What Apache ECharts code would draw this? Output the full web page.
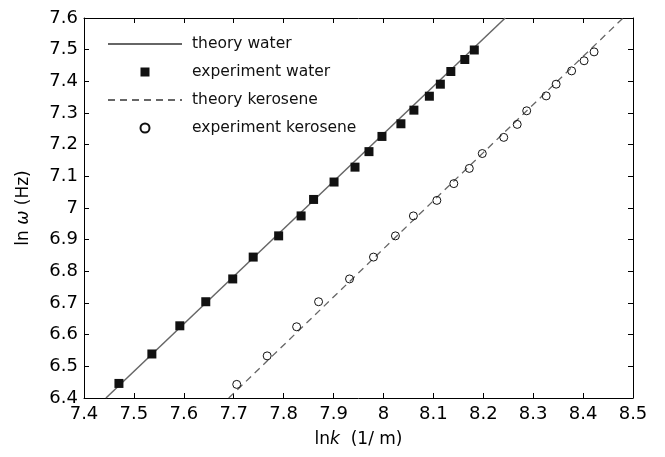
<!DOCTYPE html>
<html><head><meta charset="utf-8">
<script src="https://cdn.jsdelivr.net/npm/echarts@6/dist/echarts.min.js"></script>
<style>html,body{margin:0;padding:0;background:#fff}#c{width:665px;height:457px}</style>
</head><body><div id="c"></div>
<script>
// ln k (1/m) and ln omega (Hz)
const waterK = [7.470, 7.536, 7.592, 7.644, 7.698, 7.739, 7.790, 7.835, 7.860, 7.901, 7.943, 7.971, 7.997, 8.035, 8.061, 8.092, 8.114, 8.135, 8.163, 8.182];
const waterW = [6.446, 6.539, 6.628, 6.704, 6.776, 6.845, 6.912, 6.975, 7.027, 7.082, 7.129, 7.178, 7.226, 7.266, 7.309, 7.353, 7.391, 7.431, 7.469, 7.499];
const keroK  = [7.706, 7.767, 7.826, 7.870, 7.932, 7.980, 8.024, 8.060, 8.107, 8.141, 8.172, 8.198, 8.241, 8.268, 8.287, 8.326, 8.346, 8.377, 8.402, 8.422];
const keroW  = [6.443, 6.533, 6.625, 6.704, 6.776, 6.845, 6.912, 6.975, 7.024, 7.077, 7.125, 7.172, 7.223, 7.264, 7.307, 7.354, 7.391, 7.433, 7.465, 7.493];
const theoryWaterK = [7.444, 8.244];
const theoryWaterW = [6.4, 7.6];
const theoryKeroK = [7.690, 8.480];
const theoryKeroW = [6.4, 7.6];
const xTickLabels = ['7.4','7.5','7.6','7.7','7.8','7.9','8','8.1','8.2','8.3','8.4','8.5'];
const yTickLabels = ['6.4','6.5','6.6','6.7','6.8','6.9','7','7.1','7.2','7.3','7.4','7.5','7.6'];
const seriesNames = ['theory water','experiment water','theory kerosene','experiment kerosene'];

const FONT = 'DejaVu Sans';
const pairs = (a, b) => a.map((v, i) => [v, b[i]]);
const lab = (arr, min) => v => { const i = Math.round((v - min) / 0.1); return arr[i] !== undefined ? arr[i] : ''; };

function axisBase(min, max, labels, pos, show) {
  return {
    type: 'value', min: min, max: max, interval: 0.1, position: pos,
    axisLine: { show: true, onZero: false, lineStyle: { color: '#000', width: 1 } },
    axisTick: { show: true, inside: true, length: 5, lineStyle: { color: '#000', width: 1 } },
    axisLabel: { show: show, formatter: lab(labels, min), fontFamily: FONT, fontSize: 18, color: '#000' },
    splitLine: { show: false }
  };
}

const xb = axisBase(7.4, 8.5, xTickLabels, 'bottom', true);
xb.axisLabel.margin = 7;
xb.name = '{a|ln}{b|k}{a|  (1/ m)}';
xb.nameLocation = 'middle';
xb.nameGap = 33;
xb.nameTextStyle = { rich: { a: { fontFamily: FONT, fontSize: 17, color: '#000' }, b: { fontFamily: FONT, fontSize: 17, fontStyle: 'italic', color: '#000' } } };
const xt = axisBase(7.4, 8.5, xTickLabels, 'top', false);

const yl = axisBase(6.4, 7.6, yTickLabels, 'left', true);
yl.axisLabel.margin = 6;
yl.name = '{a|ln}{b| ω }{a|(Hz)}';
yl.nameLocation = 'middle';
yl.nameGap = 52;
yl.nameTextStyle = { rich: { a: { fontFamily: FONT, fontSize: 17, color: '#000' }, b: { fontFamily: FONT, fontSize: 17, fontStyle: 'italic', color: '#000' } } };
const yr = axisBase(6.4, 7.6, yTickLabels, 'right', false);

const chart = echarts.init(document.getElementById('c'), null, { renderer: 'canvas' });
chart.setOption({
  animation: false,
  backgroundColor: '#fff',
  grid: { left: 84, top: 18, right: 32, bottom: 59 },
  xAxis: [xb, xt],
  yAxis: [yl, yr],
  legend: {
    orient: 'vertical', left: 102, top: 30,
    itemWidth: 74, itemHeight: 9, itemGap: 10,
    symbolKeepAspect: true,
    textStyle: { fontFamily: FONT, fontSize: 15.5, color: '#111', padding: [0, 0, 0, 5], lineHeight: 18 },
    data: [
      { name: seriesNames[0], itemStyle: { opacity: 0 } },
      { name: seriesNames[1], icon: 'path://M0 0H10V10H0Z' },
      { name: seriesNames[2], itemStyle: { opacity: 0 } },
      { name: seriesNames[3], icon: 'circle' }
    ]
  },
  series: [
    { name: seriesNames[0], type: 'line', data: pairs(theoryWaterK, theoryWaterW), symbol: 'none',
      itemStyle: { color: 'rgba(0,0,0,0)' },
      lineStyle: { color: '#666', width: 1.5 }, z: 2 },
    { name: seriesNames[2], type: 'line', data: pairs(theoryKeroK, theoryKeroW), symbol: 'none',
      itemStyle: { color: 'rgba(0,0,0,0)' },
      lineStyle: { color: '#666', width: 1.3, type: [7, 5] }, z: 2 },
    { name: seriesNames[1], type: 'scatter', data: pairs(waterK, waterW), symbol: 'rect', symbolSize: 9,
      itemStyle: { color: '#111', opacity: 1 }, z: 3 },
    { name: seriesNames[3], type: 'scatter', data: pairs(keroK, keroW), symbol: 'circle', symbolSize: 8,
      itemStyle: { color: 'rgba(255,255,255,0)', borderColor: '#111', borderWidth: 1, opacity: 1 }, z: 3 }
  ]
});
</script>
</body></html>
